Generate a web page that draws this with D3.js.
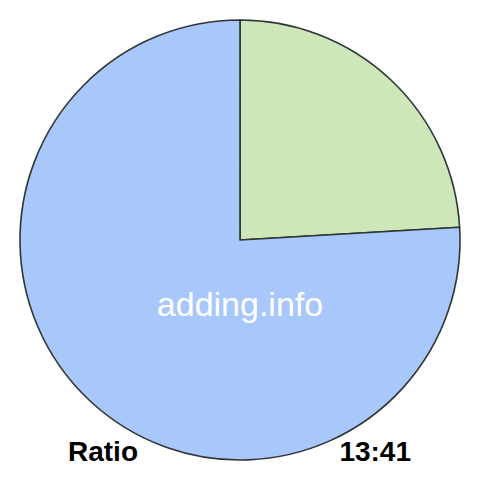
<!DOCTYPE html>
<html>
<head>
<meta charset="utf-8">
<script src="https://cdn.jsdelivr.net/npm/d3@7"></script>
<style>
  body { margin: 0; background: #fff; }
  svg { display: block; }
</style>
</head>
<body>
<svg id="chart" width="480" height="480"></svg>
<script>
// Ratio 13:41 drawn as a pie
const labels = ['13', '41'];
const values = [13, 41];
const colors = ['#cde7b9', '#a8c7fa'];
const watermark = 'adding.info';
const caption = 'Ratio';

const svg = d3.select('#chart');
const width = 480;
const radius = 220;

const g = svg.append('g')
  .attr('transform', `translate(${width / 2}, 240)`);

// keep data order, start at 12 o'clock and go clockwise
const pie = d3.pie().sort(null).value(d => d);
const arc = d3.arc().innerRadius(0).outerRadius(radius);

g.selectAll('path.slice')
  .data(pie(values))
  .enter()
  .append('path')
  .attr('class', 'slice')
  .attr('d', arc)
  .attr('fill', (d, i) => colors[i])
  .attr('stroke', '#2f3535')
  .attr('stroke-width', 1.6)
  .attr('stroke-linejoin', 'round');

g.append('text')
  .attr('x', 0)
  .attr('y', 76)
  .attr('text-anchor', 'middle')
  .attr('font-family', 'Liberation Sans, Arial, sans-serif')
  .attr('font-size', 34)
  .attr('fill', '#fff')
  .text(watermark);

svg.append('text')
  .attr('x', 68)
  .attr('y', 461)
  .attr('font-family', 'Liberation Sans, Arial, sans-serif')
  .attr('font-weight', 'bold')
  .attr('font-size', 28)
  .attr('fill', '#000')
  .text(caption);

svg.append('text')
  .attr('x', 411)
  .attr('y', 461)
  .attr('text-anchor', 'end')
  .attr('font-family', 'Liberation Sans, Arial, sans-serif')
  .attr('font-weight', 'bold')
  .attr('font-size', 28)
  .attr('fill', '#000')
  .text(labels.join(':'));
</script>
</body>
</html>
